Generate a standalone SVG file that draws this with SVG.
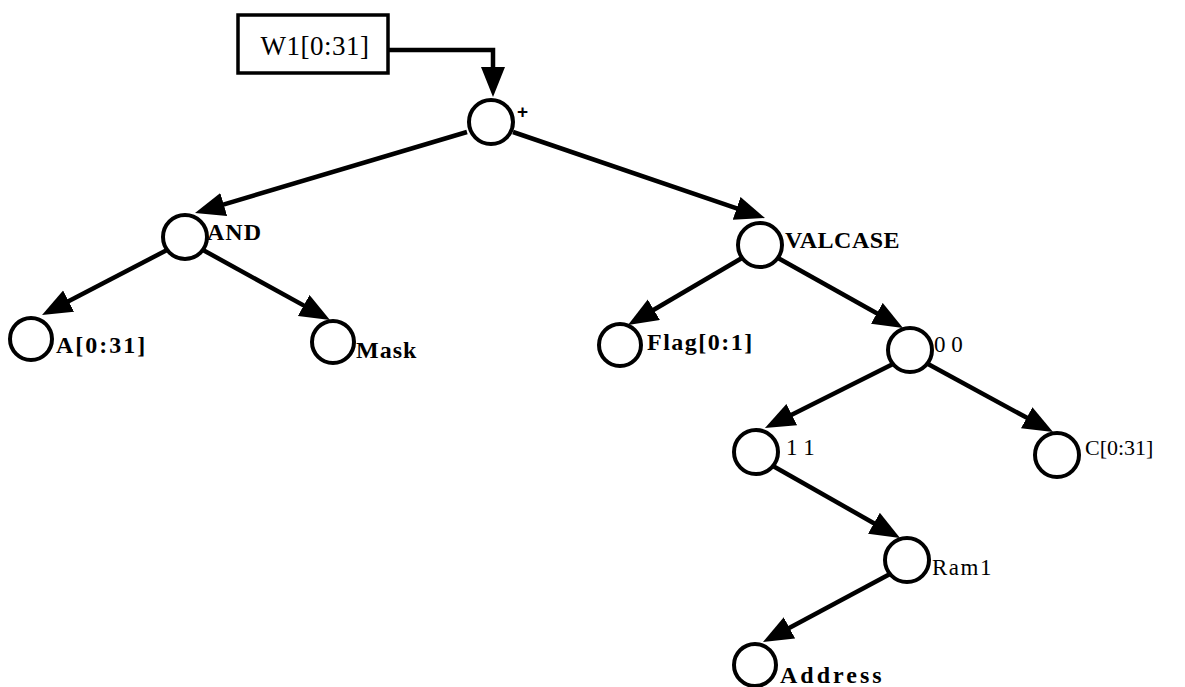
<svg xmlns="http://www.w3.org/2000/svg" width="1185" height="687" viewBox="0 0 1185 687">
<style>
.node circle{fill:#fff;stroke:#000;stroke-width:4}
.lbl{font-family:"Liberation Serif","Times New Roman",serif;fill:#000}
.b{font-weight:bold}
.edge{stroke:#000;stroke-width:4.5;fill:none}
</style>
<defs>
<marker id="ah" markerUnits="userSpaceOnUse" markerWidth="31" markerHeight="25" refX="4" refY="12" orient="auto">
<path d="M0,0 L30,12 L0,24 z" fill="#000"/>
</marker>
</defs>
<rect width="1185" height="687" fill="#fff"/>
<g id="connectors">
<path class="edge" d="M389,50 H493 V71" marker-end="url(#ah)"/>
<line class="edge" x1="467" y1="132" x2="219.9" y2="205.6" marker-end="url(#ah)"/>
<line class="edge" x1="513" y1="132" x2="740.4" y2="209.6" marker-end="url(#ah)"/>
<line class="edge" x1="167" y1="250" x2="65.1" y2="303.0" marker-end="url(#ah)"/>
<line class="edge" x1="203" y1="250" x2="307.2" y2="307.4" marker-end="url(#ah)"/>
<line class="edge" x1="742" y1="258" x2="650.4" y2="311.8" marker-end="url(#ah)"/>
<line class="edge" x1="778" y1="258" x2="880.3" y2="315.3" marker-end="url(#ah)"/>
<line class="edge" x1="893" y1="364" x2="788.2" y2="416.4" marker-end="url(#ah)"/>
<line class="edge" x1="928" y1="364" x2="1030.2" y2="419.6" marker-end="url(#ah)"/>
<line class="edge" x1="773" y1="466" x2="877.4" y2="525.2" marker-end="url(#ah)"/>
<line class="edge" x1="890" y1="574" x2="785.9" y2="629.7" marker-end="url(#ah)"/>
</g>
<g id="w1" class="node">
<rect x="238" y="15" width="150" height="58" fill="#fff" stroke="#000" stroke-width="3.5"/>
<text class="lbl" x="315" y="55" text-anchor="middle" font-size="27" letter-spacing="0.5">W1[0:31]</text>
</g>
<g id="plus" class="node">
<circle cx="491" cy="122" r="22"/>
<text x="517" y="118" font-family="Liberation Sans, Arial, sans-serif" font-weight="bold" font-size="19">+</text>
</g>
<g id="and" class="node">
<circle cx="185" cy="237" r="22"/>
<text class="lbl b" x="207" y="240" font-size="24" letter-spacing="1">AND</text>
</g>
<g id="a" class="node">
<circle cx="31" cy="339" r="21"/>
<text class="lbl b" x="56" y="353" font-size="24" letter-spacing="2">A[0:31]</text>
</g>
<g id="mask" class="node">
<circle cx="333" cy="342" r="21"/>
<text class="lbl b" x="356" y="358" font-size="24" letter-spacing="1">Mask</text>
</g>
<g id="valcase" class="node">
<circle cx="760" cy="245" r="22"/>
<text class="lbl b" x="785" y="248" font-size="24" letter-spacing="0.5">VALCASE</text>
</g>
<g id="flag" class="node">
<circle cx="620" cy="345" r="21"/>
<text class="lbl b" x="647" y="350" font-size="24" letter-spacing="1.5">Flag[0:1]</text>
</g>
<g id="n00" class="node">
<circle cx="910" cy="350" r="22"/>
<text class="lbl" x="934" y="352" font-size="23">0 0</text>
</g>
<g id="n11" class="node">
<circle cx="756" cy="452" r="22"/>
<text class="lbl" x="786" y="455" font-size="23">1 1</text>
</g>
<g id="c" class="node">
<circle cx="1057" cy="455" r="22"/>
<text class="lbl" x="1085" y="455" font-size="22">C[0:31]</text>
</g>
<g id="ram1" class="node">
<circle cx="907" cy="560" r="22"/>
<text class="lbl" x="932" y="575" font-size="23" letter-spacing="1.5">Ram1</text>
</g>
<g id="address" class="node">
<circle cx="755" cy="665" r="21"/>
<text class="lbl b" x="780" y="683" font-size="24" letter-spacing="3">Address</text>
</g>
</svg>
